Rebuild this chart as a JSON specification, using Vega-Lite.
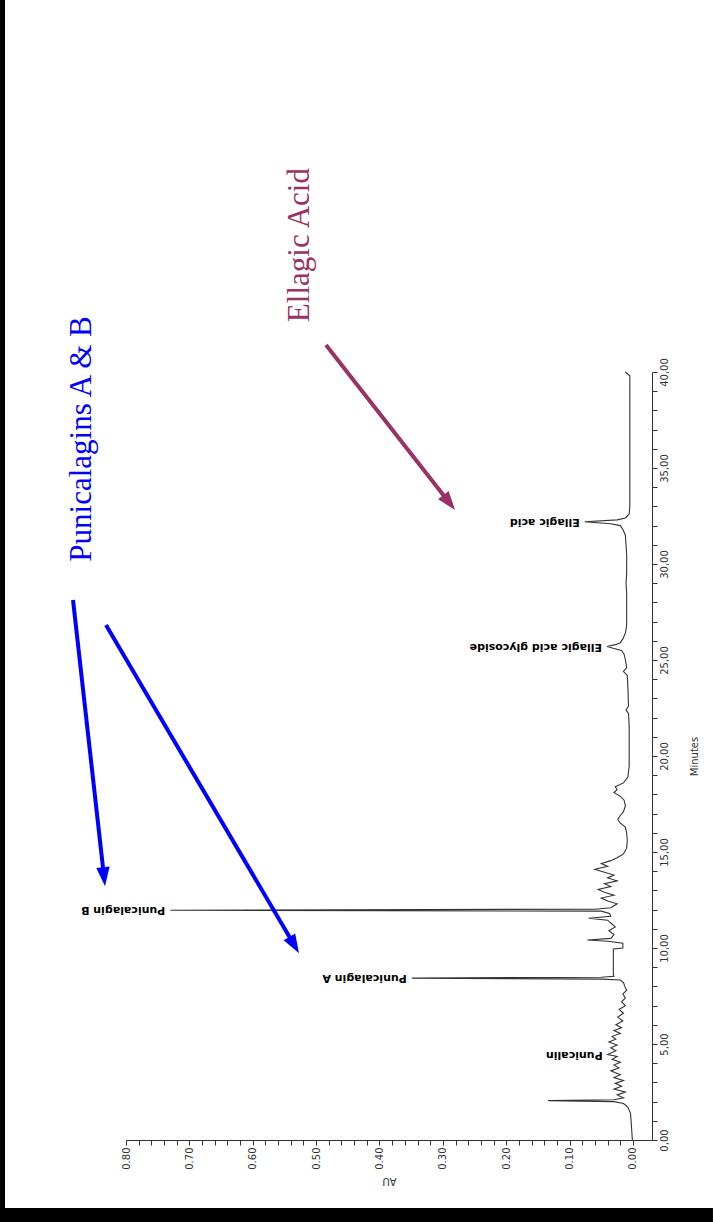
{
  "$schema": "https://vega.github.io/schema/vega-lite/v6.json",
  "width": 526,
  "height": 768,
  "autosize": {"type": "none"},
  "padding": {"left": 126, "top": 372, "right": 61, "bottom": 82},
  "background": "white",
  "config": {
    "view": {"stroke": null},
    "axis": {"grid": false, "domainColor": "#333", "tickColor": "#333", "labelColor": "#333", "titleColor": "#333", "labelFont": "DejaVu Sans", "titleFont": "DejaVu Sans", "titleFontWeight": "normal"}
  },
  "datasets": {
    "trace": [
      {"min": 0.0, "au": 0.001}, {"min": 0.5, "au": 0.002}, {"min": 1.0, "au": 0.003}, {"min": 1.4, "au": 0.004},
      {"min": 1.7, "au": 0.008}, {"min": 1.9, "au": 0.015}, {"min": 2.0, "au": 0.03}, {"min": 2.05, "au": 0.134},
      {"min": 2.1, "au": 0.03}, {"min": 2.2, "au": 0.015}, {"min": 2.35, "au": 0.025}, {"min": 2.5, "au": 0.012},
      {"min": 2.65, "au": 0.03}, {"min": 2.8, "au": 0.018}, {"min": 2.95, "au": 0.028}, {"min": 3.1, "au": 0.015},
      {"min": 3.25, "au": 0.03}, {"min": 3.4, "au": 0.02}, {"min": 3.6, "au": 0.035}, {"min": 3.75, "au": 0.022},
      {"min": 3.9, "au": 0.03}, {"min": 4.05, "au": 0.02}, {"min": 4.2, "au": 0.033}, {"min": 4.35, "au": 0.025},
      {"min": 4.45, "au": 0.04}, {"min": 4.65, "au": 0.027}, {"min": 4.8, "au": 0.035}, {"min": 4.95, "au": 0.025},
      {"min": 5.1, "au": 0.038}, {"min": 5.25, "au": 0.027}, {"min": 5.4, "au": 0.033}, {"min": 5.55, "au": 0.02},
      {"min": 5.7, "au": 0.03}, {"min": 5.85, "au": 0.018}, {"min": 6.0, "au": 0.027}, {"min": 6.2, "au": 0.016},
      {"min": 6.4, "au": 0.024}, {"min": 6.6, "au": 0.015}, {"min": 6.8, "au": 0.022}, {"min": 7.0, "au": 0.012},
      {"min": 7.2, "au": 0.018}, {"min": 7.4, "au": 0.012}, {"min": 7.6, "au": 0.016}, {"min": 7.8, "au": 0.01},
      {"min": 8.0, "au": 0.013}, {"min": 8.2, "au": 0.015}, {"min": 8.33, "au": 0.02}, {"min": 8.38, "au": 0.05},
      {"min": 8.43, "au": 0.349}, {"min": 8.48, "au": 0.05}, {"min": 8.53, "au": 0.03}, {"min": 8.6, "au": 0.031},
      {"min": 9.0, "au": 0.031}, {"min": 9.5, "au": 0.031}, {"min": 9.95, "au": 0.031}, {"min": 10.0, "au": 0.016},
      {"min": 10.25, "au": 0.016}, {"min": 10.35, "au": 0.04}, {"min": 10.42, "au": 0.072}, {"min": 10.5, "au": 0.035},
      {"min": 10.7, "au": 0.03}, {"min": 10.9, "au": 0.038}, {"min": 11.1, "au": 0.028}, {"min": 11.3, "au": 0.035},
      {"min": 11.45, "au": 0.04}, {"min": 11.55, "au": 0.07}, {"min": 11.65, "au": 0.035}, {"min": 11.8, "au": 0.037},
      {"min": 11.92, "au": 0.05}, {"min": 11.97, "au": 0.73}, {"min": 12.02, "au": 0.06}, {"min": 12.1, "au": 0.035},
      {"min": 12.3, "au": 0.025}, {"min": 12.45, "au": 0.04}, {"min": 12.6, "au": 0.05}, {"min": 12.75, "au": 0.03},
      {"min": 12.9, "au": 0.045}, {"min": 13.05, "au": 0.055}, {"min": 13.2, "au": 0.035}, {"min": 13.35, "au": 0.045},
      {"min": 13.5, "au": 0.025}, {"min": 13.65, "au": 0.04}, {"min": 13.8, "au": 0.03}, {"min": 13.95, "au": 0.045},
      {"min": 14.1, "au": 0.06}, {"min": 14.25, "au": 0.04}, {"min": 14.4, "au": 0.05}, {"min": 14.55, "au": 0.035},
      {"min": 14.7, "au": 0.025}, {"min": 14.9, "au": 0.015}, {"min": 15.2, "au": 0.01}, {"min": 15.6, "au": 0.009},
      {"min": 16.0, "au": 0.01}, {"min": 16.3, "au": 0.012}, {"min": 16.5, "au": 0.02}, {"min": 16.7, "au": 0.024},
      {"min": 16.9, "au": 0.02}, {"min": 17.1, "au": 0.015}, {"min": 17.4, "au": 0.012}, {"min": 17.7, "au": 0.014},
      {"min": 17.9, "au": 0.02}, {"min": 18.1, "au": 0.03}, {"min": 18.25, "au": 0.025}, {"min": 18.4, "au": 0.028},
      {"min": 18.6, "au": 0.015}, {"min": 18.9, "au": 0.008}, {"min": 19.5, "au": 0.006}, {"min": 20.5, "au": 0.006},
      {"min": 21.5, "au": 0.006}, {"min": 22.2, "au": 0.007}, {"min": 22.4, "au": 0.011}, {"min": 22.6, "au": 0.007},
      {"min": 23.5, "au": 0.008}, {"min": 24.2, "au": 0.009}, {"min": 24.4, "au": 0.015}, {"min": 24.6, "au": 0.01},
      {"min": 25.0, "au": 0.012}, {"min": 25.3, "au": 0.014}, {"min": 25.5, "au": 0.018}, {"min": 25.6, "au": 0.03},
      {"min": 25.7, "au": 0.041}, {"min": 25.8, "au": 0.028}, {"min": 25.9, "au": 0.02}, {"min": 26.1, "au": 0.016},
      {"min": 26.4, "au": 0.012}, {"min": 26.8, "au": 0.01}, {"min": 27.5, "au": 0.01}, {"min": 28.5, "au": 0.01},
      {"min": 29.0, "au": 0.011}, {"min": 29.5, "au": 0.01}, {"min": 30.5, "au": 0.01}, {"min": 31.0, "au": 0.011},
      {"min": 31.5, "au": 0.012}, {"min": 31.8, "au": 0.016}, {"min": 32.0, "au": 0.02}, {"min": 32.1, "au": 0.035},
      {"min": 32.2, "au": 0.076}, {"min": 32.3, "au": 0.025}, {"min": 32.4, "au": 0.012}, {"min": 32.6, "au": 0.006},
      {"min": 33.0, "au": 0.005}, {"min": 35.0, "au": 0.005}, {"min": 38.0, "au": 0.005}, {"min": 39.8, "au": 0.005},
      {"min": 40.0, "au": 0.012}
    ],
    "peaks": [
      {"label": "Punicalin", "min": 4.45, "au": 0.04},
      {"label": "Punicalagin A", "min": 8.43, "au": 0.349},
      {"label": "Punicalagin B", "min": 11.97, "au": 0.73},
      {"label": "Ellagic acid glycoside", "min": 25.7, "au": 0.041},
      {"label": "Ellagic acid", "min": 32.2, "au": 0.076}
    ],
    "arrows": [
      {"id": "a1", "group": "Punicalagins", "au_start": 0.8836, "min_start": 28.13, "au_end": 0.835, "min_end": 13.8},
      {"id": "a2", "group": "Punicalagins", "au_start": 0.8316, "min_start": 26.82, "au_end": 0.5359, "min_end": 10.23},
      {"id": "a3", "group": "Ellagic", "au_start": 0.4844, "min_start": 41.41, "au_end": 0.2916, "min_end": 33.27}
    ],
    "notes": [
      {"text": "Punicalagins A  & B", "group": "Punicalagins", "au": 0.8694, "min": 36.51},
      {"text": "Ellagic Acid", "group": "Ellagic", "au": 0.5254, "min": 46.61}
    ]
  },
  "layer": [
    {
      "data": {"values": [{}]},
      "mark": {"type": "rect", "color": "black", "clip": false},
      "encoding": {
        "x": {"datum": 0.9988, "type": "quantitative"},
        "x2": {"datum": 0.9909},
        "y": {"datum": 59.4, "type": "quantitative"},
        "y2": {"datum": -4.3}
      }
    },
    {
      "data": {"values": [{}]},
      "mark": {"type": "rect", "color": "black", "clip": false},
      "encoding": {
        "x": {"datum": 0.9988, "type": "quantitative"},
        "x2": {"datum": -0.1262},
        "y": {"datum": -3.54, "type": "quantitative"},
        "y2": {"datum": -4.3}
      }
    },
    {
      "data": {"name": "trace"},
      "mark": {"type": "line", "color": "#333", "strokeWidth": 1.1, "interpolate": "linear"},
      "encoding": {
        "x": {
          "field": "au", "type": "quantitative",
          "scale": {"domain": [-0.03, 0.8], "reverse": true, "nice": false, "zero": false},
          "axis": {
            "orient": "bottom", "title": "AU", "tickCount": 100,
            "values": [0, 0.02, 0.04, 0.06, 0.08, 0.1, 0.12, 0.14, 0.16, 0.18, 0.2, 0.22, 0.24, 0.26, 0.28, 0.3, 0.32, 0.34, 0.36, 0.38, 0.4, 0.42, 0.44, 0.46, 0.48, 0.5, 0.52, 0.54, 0.56, 0.58, 0.6, 0.62, 0.64, 0.66, 0.68, 0.7, 0.72, 0.74, 0.76, 0.78, 0.8],
            "labelExpr": "abs(datum.value*10 - round(datum.value*10)) < 0.001 ? format(datum.value, '.2f') : ''",
            "labelAngle": 270, "labelAlign": "right", "labelBaseline": "middle",
            "labelFontSize": 10, "labelOverlap": false, "labelFlush": false, "labelBound": false,
            "labelPadding": 2, "tickSize": 5,
            "titleAngle": 180, "titleBaseline": "bottom", "titleFontSize": 10, "titlePadding": 6
          }
        },
        "y": {
          "field": "min", "type": "quantitative",
          "scale": {"domain": [0, 40], "nice": false, "zero": false},
          "axis": {
            "orient": "right", "title": "Minutes", "tickCount": 100,
            "values": [0, 1, 2, 3, 4, 5, 6, 7, 8, 9, 10, 11, 12, 13, 14, 15, 16, 17, 18, 19, 20, 21, 22, 23, 24, 25, 26, 27, 28, 29, 30, 31, 32, 33, 34, 35, 36, 37, 38, 39, 40],
            "labelExpr": "datum.value % 5 == 0 ? replace(format(datum.value, '.2f'), '.', ',') : ''",
            "labelAngle": 270, "labelAlign": "center", "labelBaseline": "top",
            "labelFontSize": 10, "labelOverlap": false, "labelFlush": false, "labelBound": false,
            "labelPadding": 2, "tickSize": 5,
            "titleAngle": 270, "titleBaseline": "top", "titleFontSize": 10, "titlePadding": 20
          }
        },
        "order": {"field": "min", "type": "quantitative"}
      }
    },
    {
      "data": {"name": "peaks"},
      "mark": {"type": "text", "angle": 180, "align": "left", "baseline": "middle", "dx": 5, "font": "DejaVu Sans", "fontSize": 11, "fontWeight": "bold", "color": "black"},
      "encoding": {
        "x": {"field": "au", "type": "quantitative"},
        "y": {"field": "min", "type": "quantitative"},
        "text": {"field": "label"}
      }
    },
    {
      "data": {"name": "arrows"},
      "mark": {"type": "rule", "strokeWidth": 4, "clip": false},
      "encoding": {
        "x": {"field": "au_start", "type": "quantitative"},
        "y": {"field": "min_start", "type": "quantitative"},
        "x2": {"field": "au_end"},
        "y2": {"field": "min_end"},
        "color": {"field": "group", "type": "nominal", "scale": {"domain": ["Punicalagins", "Ellagic"], "range": ["#0000FF", "#993366"]}, "legend": null}
      }
    },
    {
      "data": {"name": "arrows"},
      "transform": [{"filter": "datum.id == 'a1'"}],
      "mark": {"type": "point", "shape": "M0,-1L0.6,0.7L-0.6,0.7Z", "filled": true, "size": 500, "angle": 173.8, "opacity": 1, "strokeWidth": 0, "clip": false},
      "encoding": {
        "x": {"field": "au_end", "type": "quantitative"},
        "y": {"field": "min_end", "type": "quantitative"},
        "color": {"field": "group", "type": "nominal", "legend": null}
      }
    },
    {
      "data": {"name": "arrows"},
      "transform": [{"filter": "datum.id == 'a2'"}],
      "mark": {"type": "point", "shape": "M0,-1L0.6,0.7L-0.6,0.7Z", "filled": true, "size": 500, "angle": 149.7, "opacity": 1, "strokeWidth": 0, "clip": false},
      "encoding": {
        "x": {"field": "au_end", "type": "quantitative"},
        "y": {"field": "min_end", "type": "quantitative"},
        "color": {"field": "group", "type": "nominal", "legend": null}
      }
    },
    {
      "data": {"name": "arrows"},
      "transform": [{"filter": "datum.id == 'a3'"}],
      "mark": {"type": "point", "shape": "M0,-1L0.6,0.7L-0.6,0.7Z", "filled": true, "size": 500, "angle": 142.0, "opacity": 1, "strokeWidth": 0, "clip": false},
      "encoding": {
        "x": {"field": "au_end", "type": "quantitative"},
        "y": {"field": "min_end", "type": "quantitative"},
        "color": {"field": "group", "type": "nominal", "legend": null}
      }
    },
    {
      "data": {"name": "notes"},
      "mark": {"type": "text", "angle": 270, "align": "center", "baseline": "middle", "font": "Liberation Serif", "fontSize": 31, "clip": false},
      "encoding": {
        "x": {"field": "au", "type": "quantitative"},
        "y": {"field": "min", "type": "quantitative"},
        "text": {"field": "text"},
        "color": {"field": "group", "type": "nominal", "legend": null}
      }
    }
  ]
}
